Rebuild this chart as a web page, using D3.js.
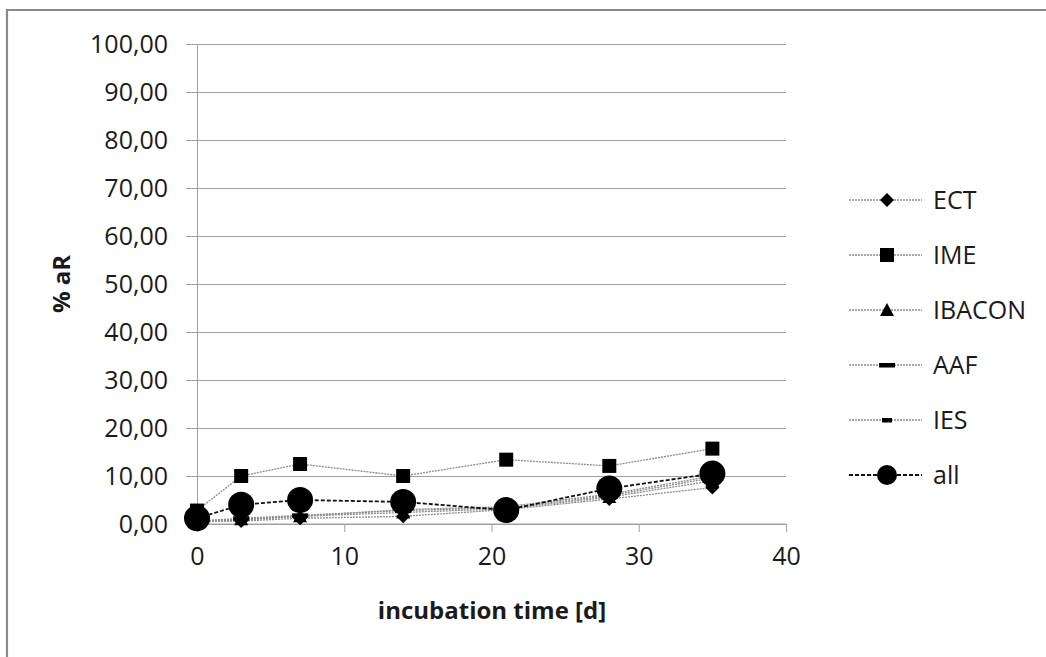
<!DOCTYPE html>
<html>
<head>
<meta charset="utf-8">
<script src="https://cdn.jsdelivr.net/npm/d3@7"></script>
<style>
  html, body { margin: 0; padding: 0; background: #fff; }
  svg { display: block; }
  text { font-family: "Open Sans", "Noto Sans", sans-serif; fill: #1a1a1a; }
</style>
</head>
<body>
<svg id="chart" width="1046" height="657"></svg>
<script>
// incubation days sampled
const days = [0, 3, 7, 14, 21, 28, 35];

// % aR per laboratory
const ect    = [0.5, 0.6, 1.2, 1.6, 3.0, 5.2, 7.6];
const ime    = [2.8, 10.0, 12.5, 10.0, 13.4, 12.1, 15.7];
const ibacon = [0.5, 1.0, 1.6, 2.4, 3.2, 5.6, 9.0];
const aaf    = [0.6, 1.2, 1.8, 2.8, 3.4, 5.9, 9.6];
const ies    = [0.4, 0.8, 1.6, 3.0, 3.6, 6.2, 10.0];
const all    = [1.2, 4.0, 5.0, 4.6, 2.9, 7.4, 10.5];

const seriesNames = ["ECT", "IME", "IBACON", "AAF", "IES", "all"];
const seriesValues = [ect, ime, ibacon, aaf, ies, all];
const markerKinds = ["diamond", "square", "triangle", "bar", "shortbar", "circle"];

const yTicks = [0, 10, 20, 30, 40, 50, 60, 70, 80, 90, 100];
const xTicks = [0, 10, 20, 30, 40];
const fmtComma = d => d3.format(".2f")(d).replace(".", ",");

const svg = d3.select("#chart");

// frame around the chart area
svg.append("path")
  .attr("d", "M7,660 L7,10 L1050,10")
  .attr("fill", "none").attr("stroke", "#8a8a8a").attr("stroke-width", 2.2);

const x = d3.scaleLinear().domain([0, 40]).range([197, 786]);
const y = d3.scaleLinear().domain([0, 100]).range([524, 44]);

// horizontal gridlines with outward ticks
const yAxis = d3.axisLeft(y).tickValues(yTicks).tickSize(11).tickFormat(fmtComma).tickPadding(18);
const gy = svg.append("g").attr("transform", "translate(197,0)").call(yAxis);
gy.select(".domain").attr("stroke", "#a0a0a0");
gy.selectAll(".tick line").attr("stroke", "#a0a0a0");
gy.selectAll(".tick").append("line")
  .attr("x1", 0).attr("x2", x(40) - 197)
  .attr("stroke", "#a0a0a0").attr("stroke-width", 1);
gy.selectAll(".tick text").style("font-size", "25px").attr("fill", "#1a1a1a")
  .attr("font-family", "Open Sans");

const xAxis = d3.axisBottom(x).tickValues(xTicks).tickSize(8).tickPadding(15);
const gx = svg.append("g").attr("transform", "translate(0,524)").call(xAxis);
gx.select(".domain").attr("stroke", "#a0a0a0").attr("d", "M197,0H786");
gx.selectAll(".tick line").attr("stroke", "#a0a0a0");
gx.selectAll(".tick text").style("font-size", "25px").attr("fill", "#1a1a1a")
  .attr("font-family", "Open Sans");

// axis titles
svg.append("text")
  .attr("x", 492).attr("y", 619)
  .attr("text-anchor", "middle")
  .style("font-size", "24px").style("font-weight", "bold")
  .text("incubation time [d]");
svg.append("text")
  .attr("transform", "translate(70,284) rotate(-90)")
  .attr("text-anchor", "middle")
  .style("font-size", "24px").style("font-weight", "bold")
  .text("% aR");

function drawMarker(g, kind, small) {
  switch (kind) {
    case "diamond":
      g.append("path").attr("d", "M0,-7L7,0L0,7L-7,0Z").attr("fill", "#000"); break;
    case "square":
      g.append("rect").attr("x", -7).attr("y", -7).attr("width", 14).attr("height", 14).attr("fill", "#000"); break;
    case "triangle":
      g.append("path").attr("d", "M0,-7L7,6L-7,6Z").attr("fill", "#000"); break;
    case "bar":
      g.append("rect").attr("x", -8).attr("y", -2).attr("width", 16).attr("height", 4.5).attr("fill", "#000"); break;
    case "shortbar":
      g.append("rect").attr("x", -5).attr("y", -2).attr("width", 10).attr("height", 4.5).attr("fill", "#000"); break;
    case "circle":
      g.append("circle").attr("r", small ? 10 : 13).attr("fill", "#000"); break;
  }
}

const lineGen = d3.line().x(d => x(d[0])).y(d => y(d[1]));

function lineStyle(sel, name) {
  if (name === "all") {
    sel.attr("stroke", "#111").attr("stroke-width", 1.8).attr("stroke-dasharray", "4,2");
  } else {
    sel.attr("stroke", "#8c8c8c").attr("stroke-width", 1.3).attr("stroke-dasharray", "2,1");
  }
}

const plot = svg.append("g");
seriesNames.forEach((name, i) => {
  const pts = days.map((d, j) => [d, seriesValues[i][j]]);
  plot.append("path").datum(pts).attr("d", lineGen).attr("fill", "none").call(lineStyle, name);
});
seriesNames.forEach((name, i) => {
  const pts = days.map((d, j) => [d, seriesValues[i][j]]);
  pts.forEach(p => {
    const g = plot.append("g").attr("transform", `translate(${x(p[0])},${y(p[1])})`);
    drawMarker(g, markerKinds[i], false);
  });
});

// legend
const legend = svg.append("g");
seriesNames.forEach((name, i) => {
  const ly = 200 + i * 55;
  const row = legend.append("g").attr("transform", `translate(0,${ly})`);
  row.append("line").attr("x1", 849).attr("x2", 922).attr("y1", 0).attr("y2", 0)
    .call(lineStyle, name);
  const m = row.append("g").attr("transform", "translate(887,0)");
  drawMarker(m, markerKinds[i], true);
  row.append("text").attr("x", 933).attr("y", 0).attr("dy", "0.35em")
    .style("font-size", "25px").text(name);
});
</script>
</body>
</html>
